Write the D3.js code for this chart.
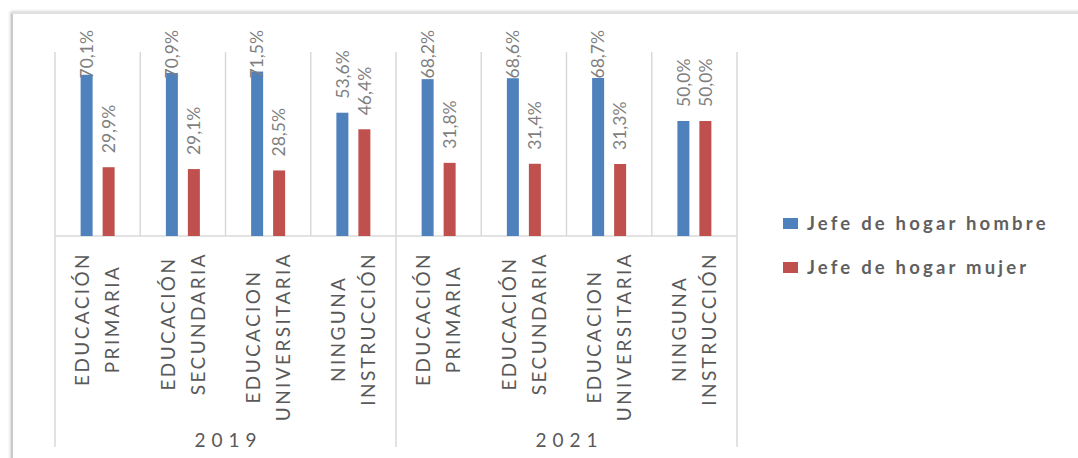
<!DOCTYPE html>
<html><head><meta charset="utf-8">
<script src="https://cdn.jsdelivr.net/npm/d3@7"></script>
<style>
html,body{margin:0;padding:0;background:#fff;}
svg{display:block;}
</style></head>
<body>
<svg id="chart" width="1078" height="458"></svg>
<script>
// ---- data ----
const years = ["2019", "2021"];
const categories = [
  ["EDUCACIÓN", "PRIMARIA"],
  ["EDUCACIÓN", "SECUNDARIA"],
  ["EDUCACION", "UNIVERSITARIA"],
  ["NINGUNA", "INSTRUCCIÓN"]
];
const seriesNames = ["Jefe de hogar hombre", "Jefe de hogar mujer"];
const hombre = [70.1, 70.9, 71.5, 53.6, 68.2, 68.6, 68.7, 50.0];
const mujer  = [29.9, 29.1, 28.5, 46.4, 31.8, 31.4, 31.3, 50.0];
const colors = ["#4f81bd", "#c0504d"];

// ---- build ----
const rows = [];
years.forEach((yr, yi) => categories.forEach((c, ci) => {
  const i = yi * categories.length + ci;
  rows.push({i, year: yr, lines: c, vals: [hombre[i], mujer[i]]});
}));

const svg = d3.select("#chart");
const fmt = d3.formatLocale({decimal: ",", thousands: ".", grouping: [3], currency: ["", ""]}).format(".1f");

// frame with soft shadow
const defs = svg.append("defs");
const f = defs.append("filter").attr("id", "sh").attr("x", "-5%").attr("y", "-5%").attr("width", "110%").attr("height", "110%");
f.append("feGaussianBlur").attr("stdDeviation", 1.5);
svg.append("rect").attr("x", 12).attr("y", 13).attr("width", 1200).attr("height", 600)
  .attr("fill", "none").attr("stroke", "#bdbdbd").attr("stroke-width", 2.5).attr("filter", "url(#sh)");
svg.append("rect").attr("x", 13).attr("y", 14).attr("width", 1200).attr("height", 600).attr("fill", "#fff");
svg.append("line").attr("x1", 12).attr("x2", 12).attr("y1", 14).attr("y2", 458).attr("stroke", "#c4c4c4").attr("stroke-width", 1.5);
svg.append("line").attr("x1", 12).attr("x2", 1078).attr("y1", 13).attr("y2", 13).attr("stroke", "#e2e2e2").attr("stroke-width", 1.5);

const x = d3.scaleBand().domain(rows.map(d => d.i)).range([55, 737]).padding(0);
const bw = x.bandwidth();
const xi = d3.scaleBand().domain([0, 1]).range([bw / 2 - 17, bw / 2 + 17]).paddingInner(10 / 22);
const y = d3.scaleLinear().domain([0, 80]).range([236, 52]);

const grid = "#d9d9d9";
// vertical gridlines
svg.append("g").selectAll("line").data(d3.range(rows.length + 1)).join("line")
  .attr("x1", k => 55 + k * bw).attr("x2", k => 55 + k * bw)
  .attr("y1", y(80)).attr("y2", y(0))
  .attr("stroke", grid).attr("stroke-width", 1.5);
// baseline
svg.append("line").attr("x1", 55).attr("x2", 737).attr("y1", y(0)).attr("y2", y(0))
  .attr("stroke", grid).attr("stroke-width", 1.5);
// group dividers
const gx = [0, categories.length, rows.length].map(k => 55 + k * bw);
svg.append("g").selectAll("line").data(gx).join("line")
  .attr("x1", d => d).attr("x2", d => d).attr("y1", y(0)).attr("y2", 447)
  .attr("stroke", grid).attr("stroke-width", 1.5);

// bars
const g = svg.append("g").selectAll("g").data(rows).join("g")
  .attr("transform", d => `translate(${x(d.i)},0)`);
g.selectAll("rect").data(d => d.vals.map((v, s) => ({v, s}))).join("rect")
  .attr("x", d => xi(d.s)).attr("width", xi.bandwidth())
  .attr("y", d => y(d.v)).attr("height", d => y(0) - y(d.v))
  .attr("fill", d => colors[d.s]);

// data labels (rotated)
g.selectAll("text").data(d => d.vals.map((v, s) => ({v, s}))).join("text")
  .text(d => fmt(d.v) + "%")
  .attr("font-family", "Lato, 'DejaVu Sans', sans-serif")
  .attr("font-size", 17.5).attr("fill", "#7f7f7f")
  .attr("dy", "0.35em")
  .each(function (d) {
    const len = this.getComputedTextLength();
    let start = y(d.v) - 14;
    if (start - len < 30) start = 30 + len;
    d3.select(this).attr("transform", `translate(${xi(d.s) + xi.bandwidth() / 2},${start}) rotate(-90)`);
  });

// category labels
const labFont = "Lato, 'DejaVu Sans', sans-serif";
rows.forEach(d => {
  const cg = svg.append("g");
  const cx = x(d.i) + bw / 2;
  const texts = d.lines.map((t, li) => cg.append("text").text(t)
    .attr("font-family", labFont).attr("font-size", 19).attr("letter-spacing", 2.4)
    .attr("fill", "#595959").attr("text-anchor", "middle").attr("dy", "0.35em"));
  const lens = texts.map(t => t.node().getComputedTextLength());
  const maxLen = d3.max(lens);
  const cy = 252 + maxLen / 2;
  const n = d.lines.length, gap = 30;
  texts.forEach((t, li) => {
    const lx = cx + (li - (n - 1) / 2) * gap;
    t.attr("transform", `translate(${lx},${cy}) rotate(-90)`);
  });
});

// year labels
svg.append("g").selectAll("text").data(years).join("text")
  .text(d => d)
  .attr("x", (d, k) => (gx[k] + gx[k + 1]) / 2 + 3)
  .attr("y", 447)
  .attr("text-anchor", "middle")
  .attr("font-family", labFont).attr("font-size", 19).attr("letter-spacing", 6)
  .attr("fill", "#595959");

// legend
const lg = svg.append("g").selectAll("g").data(seriesNames).join("g")
  .attr("transform", (d, k) => `translate(783,${218 + k * 44})`);
lg.append("rect").attr("width", 15).attr("height", 11).attr("fill", (d, k) => colors[k]);
lg.append("text").text(d => d).attr("x", 24).attr("y", 12)
  .attr("font-family", labFont).attr("font-size", 18.5).attr("letter-spacing", 3.2)
  .attr("font-weight", "bold").attr("fill", "#5f5f5f");
</script>
</body></html>
